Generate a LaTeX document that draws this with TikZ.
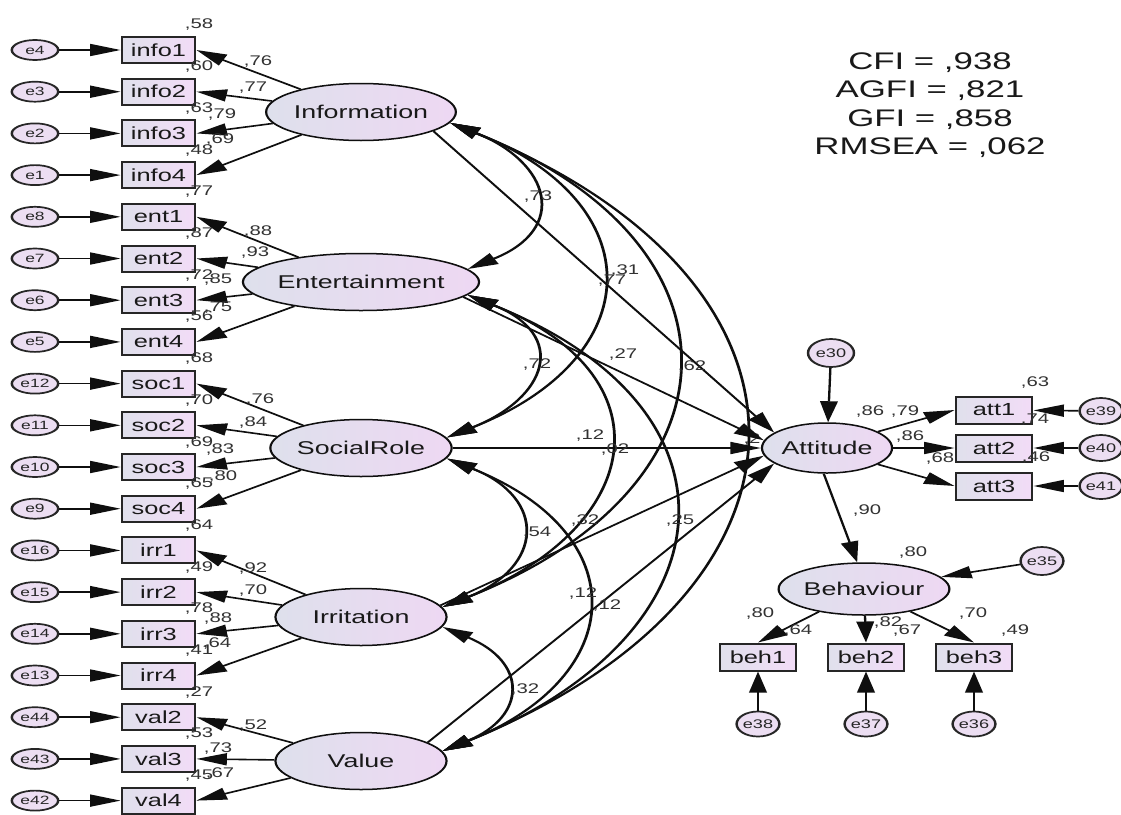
\documentclass[tikz,border=0pt]{standalone}
\usepackage{fontspec}
\setmainfont{Liberation Sans}
\usetikzlibrary{shapes.geometric,arrows.meta}
\definecolor{latL}{RGB}{222,224,236}
\definecolor{latR}{RGB}{238,216,243}
\definecolor{obsL}{RGB}{224,224,236}
\definecolor{obsR}{RGB}{242,220,247}
\definecolor{errF}{RGB}{236,222,242}
\definecolor{numC}{RGB}{50,50,50}
\definecolor{lineC}{RGB}{15,15,15}
\tikzset{
  lat/.style={ellipse, draw=lineC, line width=1.5pt, left color=latL, right color=latR,
    minimum width=118pt, minimum height=57pt, inner sep=0pt, text=black!90,
    font=\fontsize{18.5}{20}\selectfont},
  obs/.style={rectangle, draw=black!85, line width=2pt, left color=obsL, right color=obsR,
    minimum width=50.3pt, minimum height=26pt, inner sep=0pt, text=black!90,
    font=\fontsize{17.5}{19}\selectfont},
  err/.style={ellipse, draw=black!85, line width=1.7pt, fill=errF,
    minimum width=32pt, minimum height=20pt, inner sep=0pt, text=black!85,
    font=\fontsize{12}{13}\selectfont},
  errR/.style={err, font=\fontsize{12.5}{13}\selectfont},
  num/.style={font=\fontsize{14}{15}\selectfont, text=numC, inner sep=0pt},
  reg/.style={draw=lineC, line width=1.6pt, -{Triangle[length=21pt,width=12pt]}},
  cov/.style={draw=lineC, line width=1.9pt, {Triangle[length=21pt,width=12pt]}-{Triangle[length=21pt,width=12pt]}},
}
\begin{document}
\begin{tikzpicture}
\useasboundingbox (0pt,0pt) rectangle (1121pt,-814pt);
\fill[white] (0pt,0pt) rectangle (1121pt,-814pt);
\begin{scope}[x=0.689655pt, y=-1pt, transform canvas={xscale=1.45}]

% hidden label behind arrowheads
\node[num] (hid) at (752,440) {,2};

% latent variables
\node[lat] (Information) at (361,112) {Information};
\node[lat] (Entertainment) at (361,282) {Entertainment};
\node[lat] (SocialRole) at (361,448) {SocialRole};
\node[lat] (Irritation) at (361,617) {Irritation};
\node[lat] (Value) at (361,761) {Value};
\node[lat, minimum width=89.7pt, minimum height=50pt] (Attitude) at (827,448) {Attitude};
\node[lat, minimum width=106.9pt, minimum height=52pt] (Behaviour) at (864,589) {Behaviour};

% left indicators with errors
\foreach \i/\b/\e/\r in {0/info1/e4/58, 1/info2/e3/60, 2/info3/e2/63, 3/info4/e1/48,
  4/ent1/e8/77, 5/ent2/e7/87, 6/ent3/e6/72, 7/ent4/e5/56,
  8/soc1/e12/68, 9/soc2/e11/70, 10/soc3/e10/69, 11/soc4/e9/65,
  12/irr1/e16/64, 13/irr2/e15/49, 14/irr3/e14/78, 15/irr4/e13/41,
  16/val2/e44/27, 17/val3/e43/53, 18/val4/e42/45}{
  \pgfmathsetmacro\yy{50+41.7*\i}
  \node[obs] (\b) at (158.5,\yy) {\b};
  \node[err] (\e) at (35,\yy) {\e};
  \draw[reg] (\e) -- (\b);
  \node[num] (r\b) at (199,\yy-25) {,\r};
}

% loadings
\foreach \b in {info1,info2,info3,info4} \draw[reg] (Information) -- (\b.east);
\foreach \b in {ent1,ent2,ent3,ent4} \draw[reg] (Entertainment) -- (\b.east);
\foreach \b in {soc1,soc2,soc3,soc4} \draw[reg] (SocialRole) -- (\b.east);
\foreach \b in {irr1,irr2,irr3,irr4} \draw[reg] (Irritation) -- (\b.east);
\foreach \b in {val2,val3,val4} \draw[reg] (Value) -- (\b.east);

\foreach \x/\y/\t in {258/62/76, 253/88/77, 222/115/79, 220/140/69,
  258/232/88, 255/253/93, 218/280/85, 218/308/75,
  260/400/76, 253/423/84, 220/450/83, 223/477/80,
  253/568/92, 253/590/70, 218/618/88, 217/643/64,
  253/725/52, 218/748/73, 220/773/67}
  \node[num] at (\x,\y) {,\t};

% covariances
\draw[cov] (Information.-10) .. controls +(101,40) and +(101,-40) .. (Entertainment.10);
\draw[cov] (Entertainment.-10) .. controls +(101,40) and +(101,-40) .. (SocialRole.10);
\draw[cov] (SocialRole.-10) .. controls +(101,40) and +(101,-40) .. (Irritation.10);
\draw[cov] (Irritation.-10) .. controls +(85,35) and +(85,-35) .. (Value.10);
\draw[cov] (Information.-10) .. controls +(203,80) and +(203,-80) .. (SocialRole.10);
\draw[cov] (Information.-10) .. controls +(305,120) and +(305,-120) .. (Irritation.10);
\draw[cov] (Information.-10) .. controls +(395,160) and +(395,-160) .. (Value.10);
\draw[cov] (Entertainment.-10) .. controls +(203,80) and +(203,-80) .. (Irritation.10);
\draw[cov] (Entertainment.-10) .. controls +(289,115) and +(289,-115) .. (Value.10);
\draw[cov] (SocialRole.-10) .. controls +(188,75) and +(188,-75) .. (Value.10);

% regressions to Attitude
\draw[reg] (Information.-21) -- (Attitude.157);
\draw[reg] (Entertainment.-12) -- (Attitude.170);
\draw[reg] (SocialRole) -- (Attitude);
\draw[reg] (Irritation.12) -- (Attitude.190);
\draw[reg] (Value.22) -- (Attitude.203);

% middle labels
\foreach \x/\y/\t in {538/197/73, 625/271/31, 612/281/77, 623/355/27, 692/367/62,
  537/365/72, 590/436/12, 615/450/02, 537/533/54, 585/520/32, 680/520/25,
  583/593/12, 607/605/12, 525/689/32}
  \node[num] at (\x,\y) {,\t};

% Attitude side
\node[errR, minimum width=31.7pt, minimum height=28pt] (e30) at (831,353) {e30};
\draw[reg] (e30) -- (Attitude);
\node[obs, minimum width=52.4pt, minimum height=27pt] (att1) at (994,410) {att1};
\node[obs, minimum width=52.4pt, minimum height=27pt] (att2) at (994,448) {att2};
\node[obs, minimum width=52.4pt, minimum height=27pt] (att3) at (994,486) {att3};
\node[errR, minimum width=24.8pt, minimum height=26pt] (e39) at (1101,411) {e39};
\node[errR, minimum width=24.8pt, minimum height=26pt] (e40) at (1101,448) {e40};
\node[errR, minimum width=24.8pt, minimum height=26pt] (e41) at (1101,486) {e41};
\draw[reg] (Attitude.25) -- (att1.west);
\draw[reg] (Attitude) -- (att2.west);
\draw[reg] (Attitude.-25) -- (att3.west);
\draw[reg] (e39) -- (att1);
\draw[reg] (e40) -- (att2);
\draw[reg] (e41) -- (att3);

% Behaviour side
\draw[reg] (Attitude.-95) -- (Behaviour.100);
\node[errR, minimum width=27.6pt, minimum height=28pt] (e35) at (1042,561) {e35};
\draw[reg] (e35) -- (Behaviour);
\node[obs, minimum width=52.4pt, minimum height=27pt] (beh1) at (758,657) {beh1};
\node[obs, minimum width=52.4pt, minimum height=27pt] (beh2) at (866,657) {beh2};
\node[obs, minimum width=52.4pt, minimum height=27pt] (beh3) at (974,657) {beh3};
\node[errR, minimum width=26.9pt, minimum height=25pt] (e38) at (758,724) {e38};
\node[errR, minimum width=26.9pt, minimum height=25pt] (e37) at (866,724) {e37};
\node[errR, minimum width=26.9pt, minimum height=25pt] (e36) at (974,724) {e36};
\draw[reg] (Behaviour) -- (beh1.north);
\draw[reg] (Behaviour) -- (beh2.north);
\draw[reg] (Behaviour) -- (beh3.north);
\draw[reg] (e38) -- (beh1);
\draw[reg] (e37) -- (beh2);
\draw[reg] (e36) -- (beh3);

\foreach \x/\y/\t in {870/412/86, 905/412/79, 910/437/86, 940/459/68,
  1035/383/63, 1035/420/74, 1036/458/46, 867/510/90, 913/552/80,
  760/613/80, 798/630/64, 888/622/82, 907/630/67, 973/613/70, 1015/630/49}
  \node[num] at (\x,\y) {,\t};

% fit indices
\node[align=center, inner sep=0pt, text=black!90, font=\fontsize{24}{28.5}\selectfont] (gof) at (930,105)
  {CFI = ,938\\AGFI = ,821\\GFI = ,858\\RMSEA = ,062};
\end{scope}
\end{tikzpicture}
\end{document}
